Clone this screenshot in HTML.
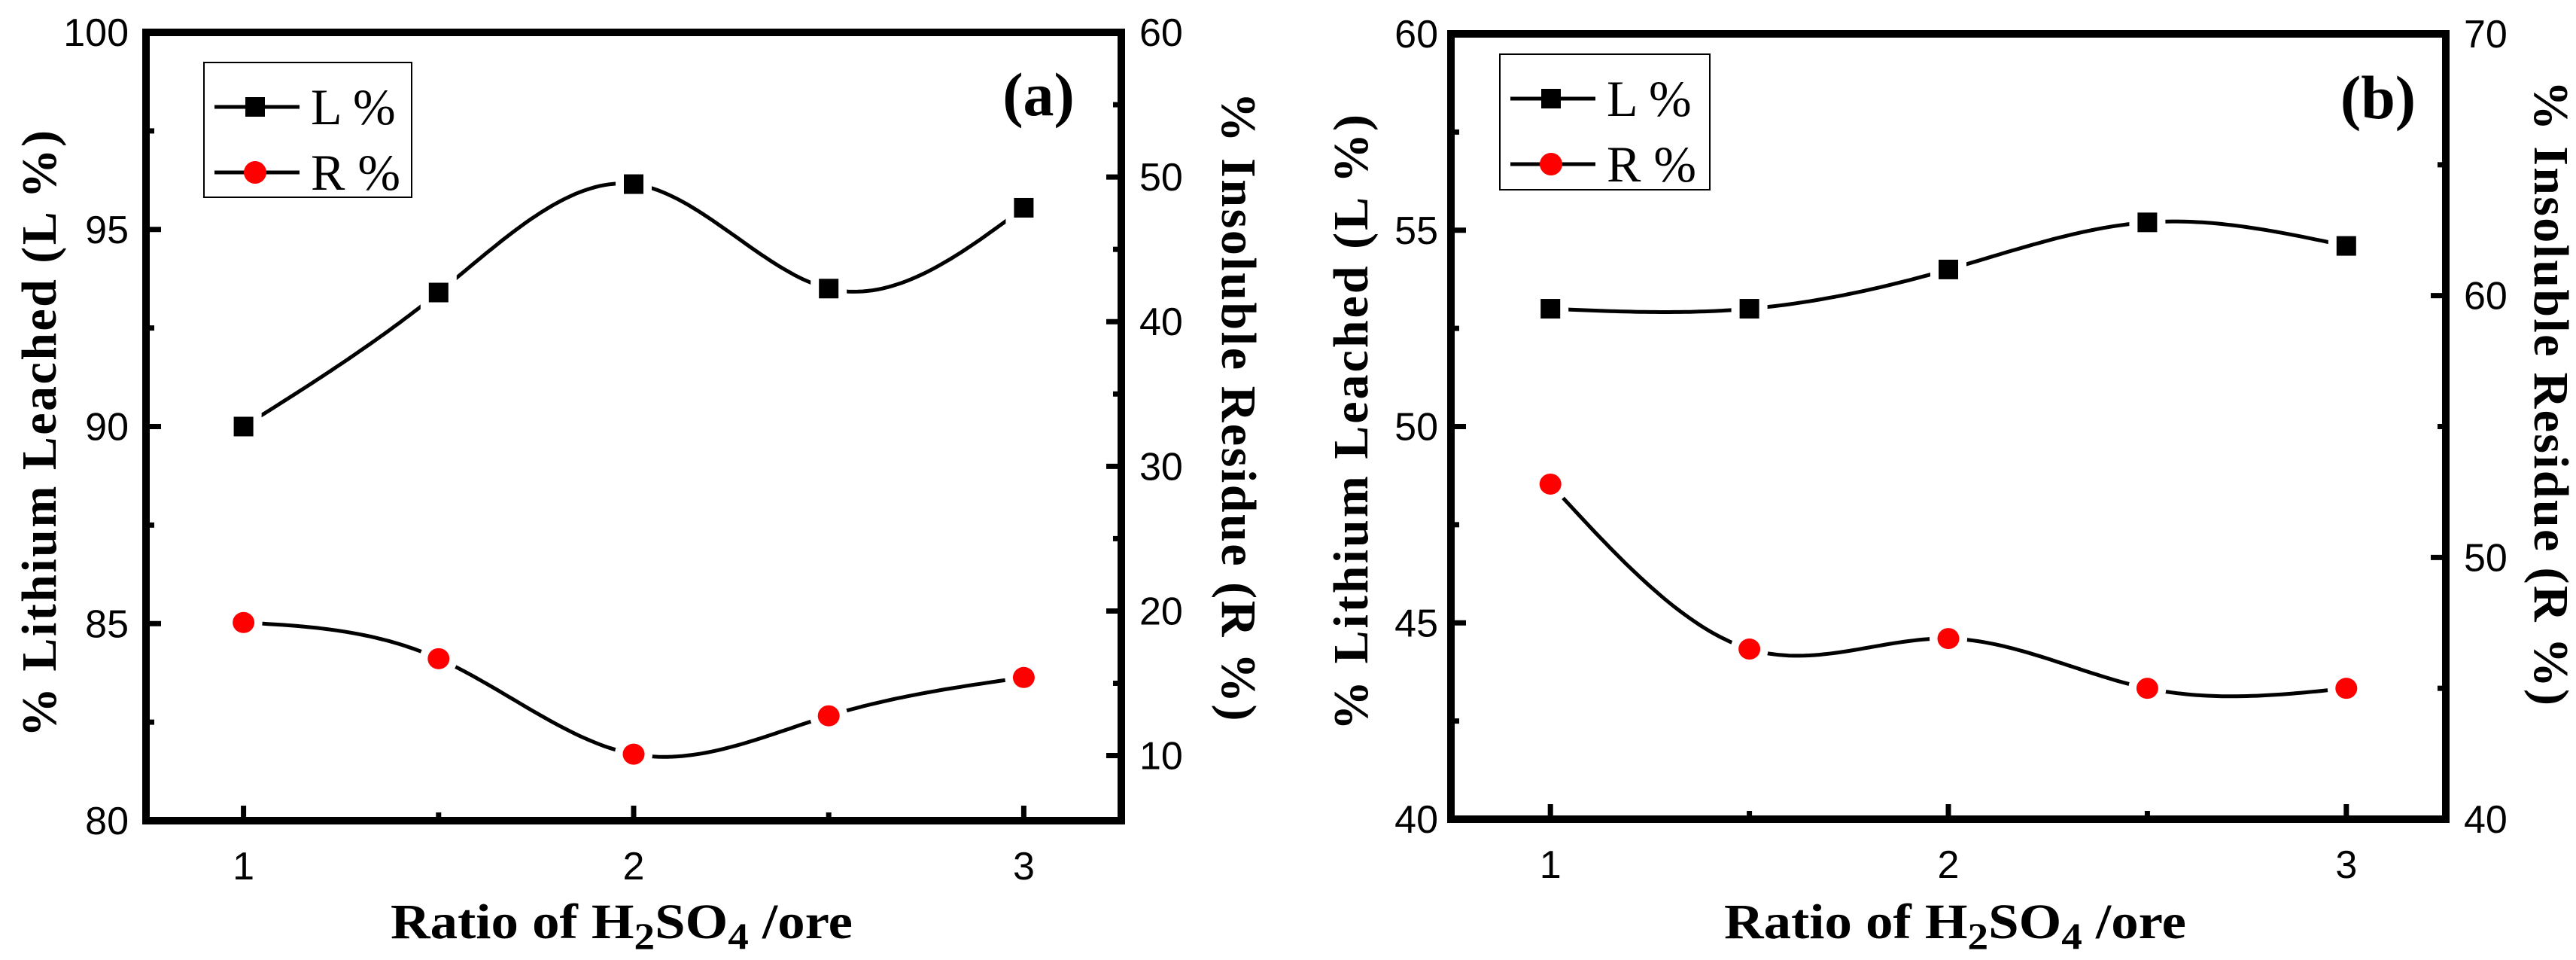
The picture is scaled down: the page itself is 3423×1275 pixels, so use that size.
<!DOCTYPE html>
<html><head><meta charset="utf-8"><style>
html,body{margin:0;padding:0;background:#fff;}
svg{display:block;}
.tick{font-family:"Liberation Sans",sans-serif;font-size:52px;fill:#000;}
.title{font-family:"Liberation Serif",serif;font-weight:bold;font-size:66px;fill:#000;}
.leg{font-family:"Liberation Serif",serif;font-size:68px;fill:#000;}
</style></head><body>
<svg id="chart" xmlns="http://www.w3.org/2000/svg" width="3423" height="1275" viewBox="0 0 3423 1275"></svg>
<script>
const xValues = [1, 1.5, 2, 2.5, 3];
const xTickLabels = ["1", "2", "3"];
const aLeached = [90.0, 93.4, 96.15, 93.5, 95.55];
const aResidue = [19.2, 16.7, 10.1, 12.75, 15.4];
const bLeached = [53.0, 53.0, 54.0, 55.2, 54.6];
const bResidue = [52.8, 46.5, 46.9, 45.0, 45.0];
const aLeftTicks = ["80", "85", "90", "95", "100"];
const aRightTicks = ["10", "20", "30", "40", "50", "60"];
const bLeftTicks = ["40", "45", "50", "55", "60"];
const bRightTicks = ["40", "50", "60", "70"];

const NS = "http://www.w3.org/2000/svg";
const svg = document.getElementById("chart");
function mk(tag, attrs, parent, text) {
  const e = document.createElementNS(NS, tag);
  for (const k in attrs) e.setAttribute(k, attrs[k]);
  if (text !== undefined) e.textContent = text;
  (parent || svg).appendChild(e);
  return e;
}
function spline(xs, ys) {
  const n = xs.length, h = [], al = [], l = [1], mu = [0], z = [0], c = new Array(n).fill(0), b = [], d = [];
  for (let i = 0; i < n - 1; i++) h.push(xs[i + 1] - xs[i]);
  for (let i = 1; i < n - 1; i++) al[i] = 3 / h[i] * (ys[i + 1] - ys[i]) - 3 / h[i - 1] * (ys[i] - ys[i - 1]);
  for (let i = 1; i < n - 1; i++) { l[i] = 2 * (xs[i + 1] - xs[i - 1]) - h[i - 1] * mu[i - 1]; mu[i] = h[i] / l[i]; z[i] = (al[i] - h[i - 1] * z[i - 1]) / l[i]; }
  for (let j = n - 2; j >= 0; j--) { c[j] = (z[j] || 0) - (mu[j] || 0) * c[j + 1]; b[j] = (ys[j + 1] - ys[j]) / h[j] - h[j] * (c[j + 1] + 2 * c[j]) / 3; d[j] = (c[j + 1] - c[j]) / (3 * h[j]); }
  const pts = [];
  for (let j = 0; j < n - 1; j++) {
    for (let k = 0; k <= 40; k++) {
      const t = h[j] * k / 40;
      pts.push([xs[j] + t, ys[j] + b[j] * t + c[j] * t * t + d[j] * t * t * t]);
    }
  }
  return pts;
}
function panel(cfg) {
  const g = mk("g", { });
  const L = cfg.left, R = cfg.right, T = cfg.top, B = cfg.bottom;
  const sx = v => L + (v - 0.75) / 2.5 * (R - L);
  const syL = v => B - (v - cfg.lmin) / (cfg.lmax - cfg.lmin) * (B - T);
  const syR = v => B - (v - cfg.rmin) / (cfg.rmax - cfg.rmin) * (B - T);
  const tg = mk("g", { }, g);
  xValues.forEach((v, i) => {
    const major = i % 2 === 0, len = major ? 20 : 11;
    mk("line", {x1: sx(v), x2: sx(v), y1: B, y2: B - len, stroke: "#000", "stroke-width": 7}, tg);
    if (major) mk("text", {x: sx(v), y: B + 78, class: "tick", "text-anchor": "middle",  }, tg, xTickLabels[i / 2]);
  });
  cfg.lticks.forEach((s, i) => {
    const v = parseFloat(s);
    mk("line", {x1: L, x2: L + 20, y1: syL(v), y2: syL(v), stroke: "#000", "stroke-width": 7}, tg);
    mk("text", {x: cfg.llabX, y: syL(v) + 18, class: "tick", "text-anchor": "end",  }, tg, s);
    if (i < cfg.lticks.length - 1) { const m = v + cfg.lstep / 2; mk("line", {x1: L, x2: L + 11, y1: syL(m), y2: syL(m), stroke: "#000", "stroke-width": 7}, tg); }
  });
  cfg.rticks.forEach((s, i) => {
    const v = parseFloat(s);
    mk("line", {x1: R, x2: R - 20, y1: syR(v), y2: syR(v), stroke: "#000", "stroke-width": 7}, tg);
    mk("text", {x: cfg.rlabX, y: syR(v) + 18, class: "tick", "text-anchor": "start",  }, tg, s);
    if (i < cfg.rticks.length - 1) { const m = v + cfg.rstep / 2; mk("line", {x1: R, x2: R - 11, y1: syR(m), y2: syR(m), stroke: "#000", "stroke-width": 7}, tg); }
  });
  mk("rect", {x: L, y: T, width: R - L, height: B - T, fill: "none", stroke: "#000", "stroke-width": 10,  }, g);
  const series = [{d: cfg.L, sy: syL, shape: "sq", name: "series-leached"}, {d: cfg.Rv, sy: syR, shape: "ci", name: "series-residue"}];
  series.forEach(s => {
    const pts = spline(xValues, s.d).map(p => sx(p[0]).toFixed(1) + "," + s.sy(p[1]).toFixed(1));
    mk("polyline", {points: pts.join(" "), fill: "none", stroke: "#000", "stroke-width": 5,  }, g);
  });
  series.forEach(s => {
    s.d.forEach((v, i) => {
      const x = sx(xValues[i]), y = s.sy(v);
      if (s.shape === "sq") {
        mk("rect", {x: x - 24, y: y - 24, width: 48, height: 48, fill: "#fff"}, g);
        mk("rect", {x: x - 13, y: y - 13, width: 26, height: 26, fill: "#000",  }, g);
      } else {
        mk("circle", {cx: x, cy: y, r: 25, fill: "#fff"}, g);
        mk("ellipse", {cx: x, cy: y, rx: 14.5, ry: 14, fill: "#f00",  }, g);
      }
    });
  });
  const lg = mk("g", { }, g);
  const lx = cfg.legX, ly = cfg.legY;
  mk("rect", {x: lx, y: ly, width: cfg.legW, height: cfg.legH, fill: "#fff", stroke: "#000", "stroke-width": 2}, lg);
  [["sq", "L %", 59], ["ci", "R %", 146]].forEach(e => {
    const y = ly + e[2];
    mk("line", {x1: lx + 14, x2: lx + 127, y1: y, y2: y, stroke: "#000", "stroke-width": 5}, lg);
    mk("rect", {x: lx + 55, y: y - 18, width: 26, height: 36, fill: "#fff"}, lg);
    if (e[0] === "sq") mk("rect", {x: lx + 55, y: y - 13, width: 26, height: 26, fill: "#000"}, lg);
    else mk("circle", {cx: lx + 68, cy: y, r: 15, fill: "#f00"}, lg);
    mk("text", {x: lx + 142, y: y + 23, class: "leg",  }, lg, e[1]);
  });
  mk("text", {x: cfg.tagX, y: cfg.tagY, class: "title", style: "font-size:82px", "text-anchor": "middle",  }, g, cfg.tag);
  const xt = mk("text", {x: cfg.xtX, y: 1246, class: "title", "text-anchor": "middle", textLength: 614, lengthAdjust: "spacingAndGlyphs",  }, g);
  xt.innerHTML = 'Ratio of H<tspan font-size="50" dy="14">2</tspan><tspan dy="-14">SO</tspan><tspan font-size="50" dy="14">4</tspan><tspan dy="-14"> /ore</tspan>';
  mk("text", {x: 0, y: 0, class: "title", "text-anchor": "middle", textLength: cfg.ltLen, lengthAdjust: "spacing", transform: `translate(${cfg.ltX + 22},${cfg.ltY}) rotate(-90)`,  }, g, "% Lithium  Leached (L %)");
  mk("text", {x: 0, y: 0, class: "title", "text-anchor": "middle", textLength: cfg.rtLen, lengthAdjust: "spacing", transform: `translate(${cfg.rtX - 22},${cfg.rtY}) rotate(90)`,  }, g, "% Insoluble Residue (R %)");
}
panel({name: "panel-a", left: 194, right: 1490, top: 43, bottom: 1090, lmin: 80, lmax: 100, rmin: 5.5, rmax: 60,
  lticks: aLeftTicks, rticks: aRightTicks, lstep: 5, rstep: 10, llabX: 171, rlabX: 1514, L: aLeached, Rv: aResidue,
  legX: 271, legY: 83, legW: 276, legH: 179, tag: "(a)", tagX: 1380, tagY: 153, xtX: 826,
  ltX: 52, ltY: 576, ltLen: 806, rtX: 1646, rtY: 540, rtLen: 835});
panel({name: "panel-b", left: 1928, right: 3250, top: 45, bottom: 1088, lmin: 40, lmax: 60, rmin: 40, rmax: 70,
  lticks: bLeftTicks, rticks: bRightTicks, lstep: 5, rstep: 10, llabX: 1911, rlabX: 3274, L: bLeached, Rv: bResidue,
  legX: 1993, legY: 72, legW: 279, legH: 180, tag: "(b)", tagX: 3160, tagY: 157, xtX: 2598,
  ltX: 1795, ltY: 561, ltLen: 818, rtX: 3390, rtY: 522, rtLen: 830});
</script>
</body></html>
